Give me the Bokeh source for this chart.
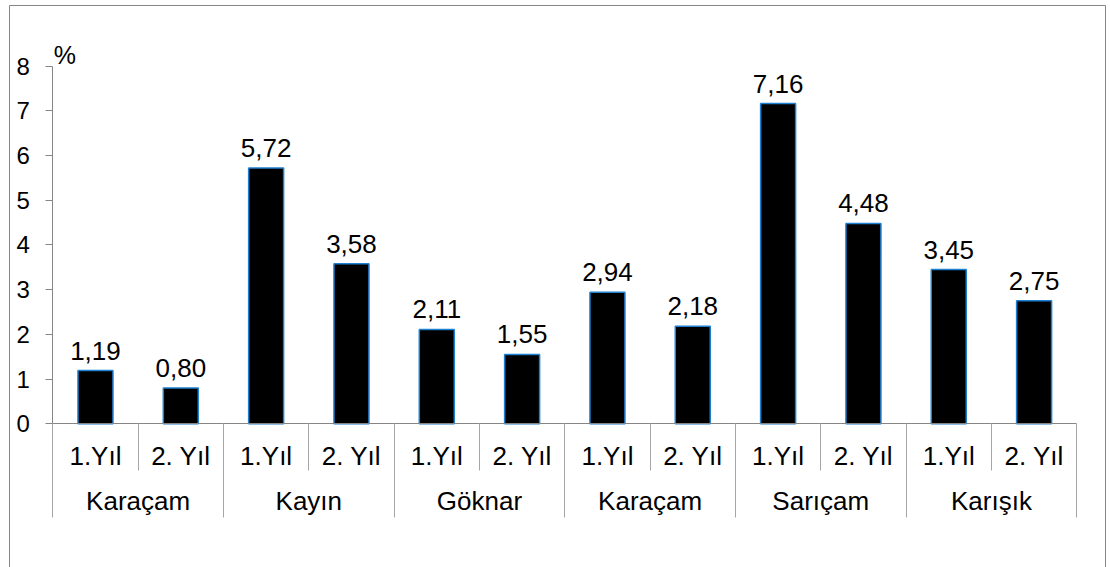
from bokeh.plotting import figure
from bokeh.models import Range1d, FixedTicker, LinearAxis, Label, BoxAnnotation
from bokeh.core.properties import value
from bokeh.embed import file_html
from bokeh.resources import INLINE

groups = ["Karaçam", "Kayın", "Göknar", "Karaçam", "Sarıçam", "Karışık"]
years = ["1.Yıl", "2. Yıl"]
values = [1.19, 0.80, 5.72, 3.58, 2.11, 1.55, 2.94, 2.18, 7.16, 4.48, 3.45, 2.75]
y_ticks = [0, 1, 2, 3, 4, 5, 6, 7, 8]
y_unit = "%"

FONT = "Liberation Sans"
AXIS = "#868686"
SEP = "#a6a6a6"

W, H = 1110, 567
PX_X = 85.33   # pixels per category
PX_Y = 44.72   # pixels per percent
X0, Y0 = 52.3, 423.3  # pixel position of the plot origin

n = len(values)
xs = [i + 0.5 for i in range(n)]
labels = [f"{v:.2f}".replace(".", ",") for v in values]
label_y = [v + 11 / PX_Y for v in values]

p = figure(width=W, height=H,
           x_range=Range1d(-X0 / PX_X, (W - X0) / PX_X),
           y_range=Range1d(-(H - Y0) / PX_Y, Y0 / PX_Y),
           output_backend="svg", toolbar_location=None,
           x_axis_location=None, y_axis_location=None,
           min_border=0, min_border_left=0, min_border_right=0,
           min_border_top=0, min_border_bottom=0)
p.grid.visible = False
p.outline_line_color = None
p.background_fill_color = "white"
p.border_fill_color = "white"

# chart border
p.add_layout(BoxAnnotation(left=9, right=1105, top=5, bottom=700,
                           left_units="canvas", right_units="canvas",
                           top_units="canvas", bottom_units="canvas",
                           fill_color=None, fill_alpha=0, line_color=AXIS,
                           line_alpha=1, line_width=1, level="underlay"))

# y axis
ya = LinearAxis(ticker=FixedTicker(ticks=y_ticks), fixed_location=0, bounds=(0, 8))
ya.major_tick_out = 7
ya.major_tick_in = 0
ya.minor_tick_line_color = None
ya.axis_line_color = AXIS
ya.major_tick_line_color = AXIS
ya.major_label_text_font = FONT
ya.major_label_text_font_size = "24px"
ya.major_label_text_color = "black"
ya.major_label_standoff = 16
p.add_layout(ya, "left")

# x axis level 1: years
year_ticks = xs
year_over = {x: years[i % 2] for i, x in enumerate(year_ticks)}
xa1 = LinearAxis(ticker=FixedTicker(ticks=year_ticks, minor_ticks=list(range(n + 1))),
                 major_label_overrides=year_over, fixed_location=0, bounds=(0, n))
xa1.major_tick_out = 0
xa1.major_tick_in = 0
xa1.major_tick_line_color = None
xa1.minor_tick_out = 47
xa1.minor_tick_in = 0
xa1.minor_tick_line_color = SEP
xa1.axis_line_color = AXIS
xa1.major_label_standoff = -30
xa1.major_label_text_font = FONT
xa1.major_label_text_font_size = "26px"
xa1.major_label_text_color = "black"
p.add_layout(xa1, "below")

# x axis level 2: groups
group_ticks = [2 * g + 1 for g in range(len(groups))]
group_over = {t: groups[g] for g, t in enumerate(group_ticks)}
xa2 = LinearAxis(ticker=FixedTicker(ticks=group_ticks, minor_ticks=list(range(0, n + 1, 2))),
                 major_label_overrides=group_over, fixed_location=-1.0, bounds=(0, n))
xa2.major_tick_out = 0
xa2.major_tick_in = 0
xa2.major_tick_line_color = None
xa2.minor_tick_out = 49
xa2.minor_tick_in = 0
xa2.minor_tick_line_color = SEP
xa2.axis_line_color = None
xa2.major_label_standoff = -32
xa2.major_label_text_font = FONT
xa2.major_label_text_font_size = "26px"
xa2.major_label_text_color = "black"
p.add_layout(xa2, "below")

# bars
p.vbar(x=xs, top=values, bottom=0, width=0.41, fill_color="black",
       line_color="#1f7fd0", line_width=1.5)

# value labels
p.text(x=xs, y=label_y, text=labels, text_align="center", text_baseline="bottom",
       text_font=value(FONT), text_font_size="26px", text_color="black")

p.add_layout(Label(x=0.01, y=8.236, text=y_unit, text_font=FONT, text_font_size="25px",
                   text_baseline="alphabetic", text_color="black"))

open("out.html", "w").write(file_html(p, INLINE))
